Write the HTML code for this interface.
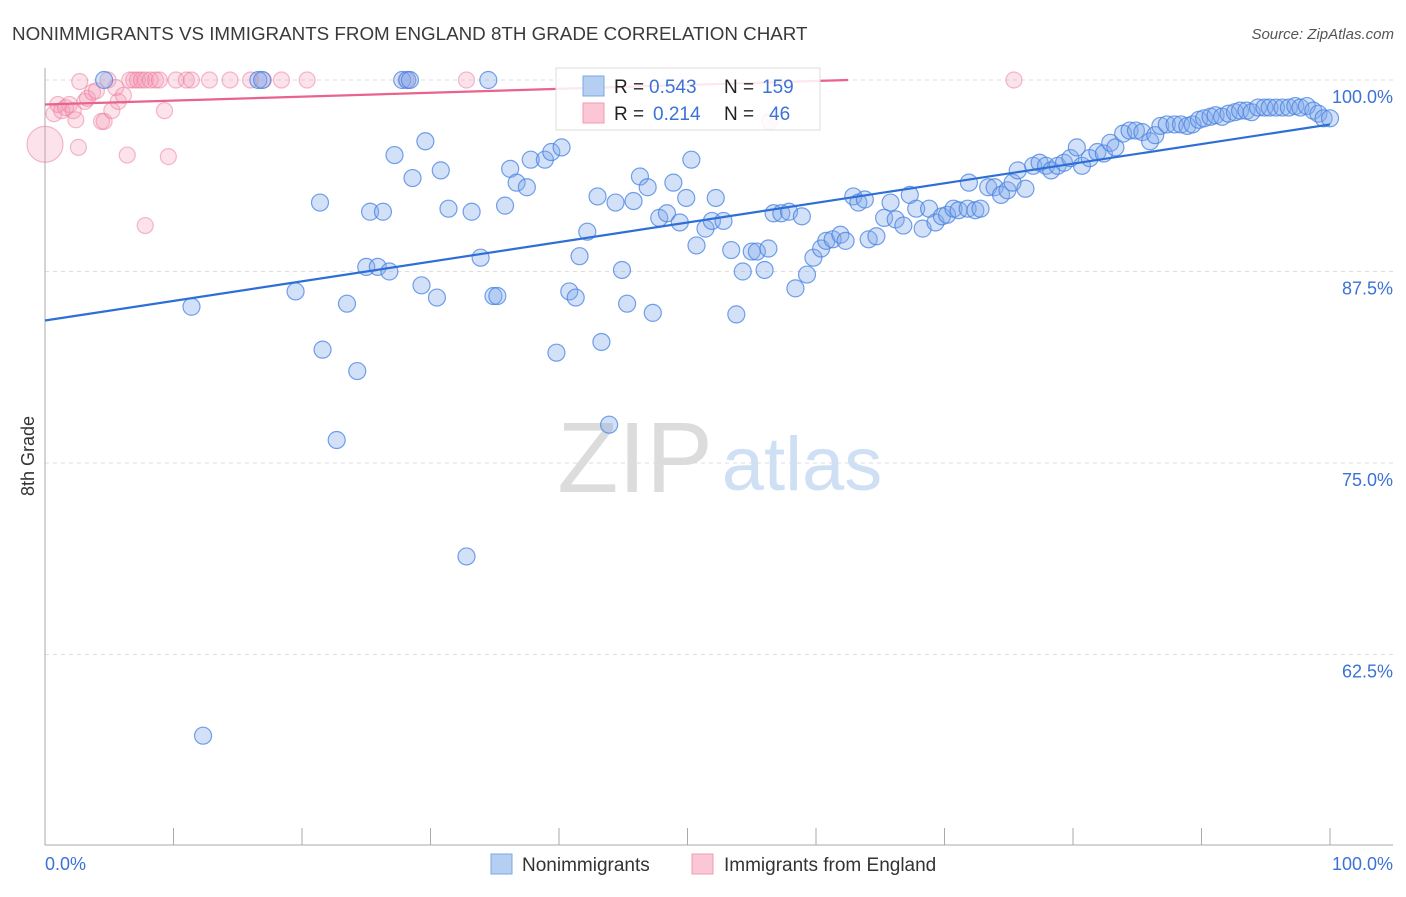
<!DOCTYPE html>
<html><head><meta charset="utf-8"><style>
body{margin:0;background:#fff;font-family:"Liberation Sans",Arial,sans-serif}
svg text{font-family:"Liberation Sans",Arial,sans-serif}
</style></head><body>
<svg id="chart" width="1406" height="892" xmlns="http://www.w3.org/2000/svg">
<text x="12" y="40" font-size="18.8" fill="#3a3a3a">NONIMMIGRANTS VS IMMIGRANTS FROM ENGLAND 8TH GRADE CORRELATION CHART</text>
<text x="1394" y="39" font-size="15" fill="#555" font-style="italic" text-anchor="end">Source: ZipAtlas.com</text>
<g>
<text x="635" y="492" font-size="100" fill="#dcdcdc" font-family="Liberation Serif,serif" text-anchor="middle">ZIP</text>
<text x="802" y="490" font-size="76" fill="#cfe0f5" text-anchor="middle">atlas</text>
</g>
<g id="grid"></g>
<g id="axes"></g>
<g id="marks"></g>
<g>
<rect x="556" y="68" width="264" height="62" fill="#fff" fill-opacity="0.85" stroke="#ddd"/>
<rect x="583" y="76" width="21" height="20" fill="#b5cff3" stroke="#7ea6e6"/>
<text x="614" y="93" font-size="19" fill="#222">R = </text><text x="649" y="93" font-size="19" fill="#3b72d6">0.543</text>
<text x="724" y="93" font-size="19" fill="#222">N = </text><text x="762" y="93" font-size="19" fill="#3b72d6">159</text>
<rect x="583" y="103" width="21" height="20" fill="#fbc7d6" stroke="#f29bb4"/>
<text x="614" y="120" font-size="19" fill="#222">R = </text><text x="653" y="120" font-size="19" fill="#3b72d6">0.214</text>
<text x="724" y="120" font-size="19" fill="#222">N = </text><text x="769" y="120" font-size="19" fill="#3b72d6">46</text>
</g>
<g>
<rect x="491" y="854" width="21" height="20" fill="#b5cff3" stroke="#7ea6e6"/>
<text x="522" y="871" font-size="19" fill="#333">Nonimmigrants</text>
<rect x="692" y="854" width="21" height="20" fill="#fbc7d6" stroke="#f29bb4"/>
<text x="724" y="871" font-size="19" fill="#333">Immigrants from England</text>
</g>
<text transform="translate(34,456) rotate(-90)" font-size="18" fill="#333" text-anchor="middle">8th Grade</text>
</svg>
<script>
const blueX=[4.6,16.6,16.9,27.8,28.2,28.4,34.5,11.4,19.5,21.4,21.6,22.7,23.5,24.3,25.0,25.3,25.9,26.3,26.8,27.2,28.6,29.3,29.6,30.5,30.8,31.4,33.2,33.9,34.9,35.2,35.8,36.2,36.7,37.5,37.8,38.9,39.4,39.8,40.2,40.8,41.3,41.6,42.2,43.0,43.3,43.9,44.4,44.9,45.3,45.8,46.3,46.9,47.3,47.8,48.4,48.9,49.4,49.9,50.3,50.7,51.4,51.9,52.2,52.8,53.4,53.8,54.3,55.0,55.4,56.0,56.3,56.7,57.3,57.9,58.4,58.9,59.3,59.8,60.4,60.8,61.3,61.9,62.3,62.9,63.3,63.8,64.1,64.7,65.3,65.8,66.2,66.8,67.3,67.8,68.3,68.8,69.3,69.8,70.2,70.7,71.1,71.8,72.4,71.9,72.8,73.4,73.9,74.4,74.9,75.3,75.7,76.3,76.9,77.4,77.9,78.3,78.8,79.3,79.8,80.3,80.7,81.3,81.9,82.4,82.9,83.3,83.9,84.4,84.9,85.4,86.0,86.4,86.8,87.3,87.9,88.4,88.9,89.3,89.8,90.2,90.7,91.1,91.6,92.1,92.6,93.0,93.5,93.9,94.4,94.9,95.3,95.8,96.3,96.8,97.3,97.7,98.2,98.7,99.1,99.5,100,12.3,32.8];
const blueY=[100,100,100,100,100,100,100,85.2,86.2,92.0,82.4,76.5,85.4,81.0,87.8,91.4,87.8,91.4,87.5,95.1,93.6,86.6,96.0,85.8,94.1,91.6,91.4,88.4,85.9,85.9,91.8,94.2,93.3,93.0,94.8,94.8,95.3,82.2,95.6,86.2,85.8,88.5,90.1,92.4,82.9,77.5,92.0,87.6,85.4,92.1,93.7,93.0,84.8,91.0,91.3,93.3,90.7,92.3,94.8,89.2,90.3,90.8,92.3,90.8,88.9,84.7,87.5,88.8,88.8,87.6,89.0,91.3,91.3,91.4,86.4,91.1,87.3,88.4,89.0,89.5,89.6,89.9,89.5,92.4,92.0,92.2,89.6,89.8,91.0,92.0,90.9,90.5,92.5,91.6,90.3,91.6,90.7,91.1,91.2,91.6,91.5,91.6,91.5,93.3,91.6,93.0,93.0,92.5,92.8,93.3,94.1,92.9,94.4,94.6,94.4,94.1,94.4,94.6,94.9,95.6,94.4,94.9,95.3,95.2,95.9,95.6,96.5,96.7,96.7,96.6,96.0,96.4,97.0,97.1,97.1,97.1,97.0,97.1,97.4,97.5,97.6,97.7,97.6,97.8,97.9,98.0,98.0,97.9,98.2,98.2,98.2,98.2,98.2,98.2,98.3,98.2,98.3,98.0,97.8,97.5,97.5,57.2,68.9];
const pinkX=[0,0.7,1.0,1.3,1.6,1.9,2.2,2.4,2.7,3.1,3.3,3.7,4.0,4.4,4.6,4.9,5.2,5.5,5.7,6.1,6.4,6.6,6.9,7.2,7.5,7.8,8.2,8.6,8.9,9.3,9.6,7.8,10.2,11.0,11.4,12.8,14.4,16.0,17.0,18.4,20.4,28.1,32.8,56.4,75.4,2.6];
const pinkY=[95.8,97.8,98.4,98.0,98.2,98.4,98.0,97.4,99.9,98.6,98.8,99.2,99.3,97.3,97.3,100,98.0,99.5,98.6,99.0,95.1,100,100,100,100,100,100,100,100,98.0,95.0,90.5,100,100,100,100,100,100,100,100,100,100,100,97.3,100,95.6];
const pinkR=[18,8,8,8,8,8,8,8,8,8,8,8,8,8,8,8,8,8,8,8,8,8,8,8,8,8,8,8,8,8,8,8,8,8,8,8,8,8,8,8,8,8,8,8,8,8];
const blueTrend=[84.3,97.1];   // y at x=0 and x=100
const pinkTrend=[98.4,0.0256]; // intercept, slope
const yTicks=[100,87.5,75,62.5];
const yTickLabels=["100.0%","87.5%","75.0%","62.5%"];
const xTicks=[0,10,20,30,40,50,60,70,80,90,100];

const NS="http://www.w3.org/2000/svg";
const X=v=>45+v*12.85, Y=v=>80+(100-v)*15.32;
function mk(tag,attrs,parent){const e=document.createElementNS(NS,tag);for(const k in attrs)e.setAttribute(k,attrs[k]);parent.appendChild(e);return e;}
const grid=document.getElementById('grid'),axes=document.getElementById('axes'),marks=document.getElementById('marks');
yTicks.forEach((t,i)=>{
  const l=mk('line',{x1:45,x2:1393,y1:Y(t),y2:Y(t),stroke:'#ddd','stroke-dasharray':'4,4'},grid);
  
  
  const tx=mk('text',{x:1393,y:Y(t)+23,'font-size':18,fill:'#3b72d6','text-anchor':'end'},axes);
  tx.textContent=yTickLabels[i];
  
  
});
const la=mk('line',{x1:45,x2:45,y1:68,y2:845,stroke:'#aaa'},axes);


const ba=mk('line',{x1:45,x2:1393,y1:845,y2:845,stroke:'#aaa'},axes);


xTicks.forEach(t=>{
  const tk=mk('line',{x1:X(t),x2:X(t),y1:828,y2:845,stroke:'#aaa'},axes);
  
  
});
[[0,"0.0%",'start',45],[100,"100.0%",'end',1393]].forEach(a=>{
  const tx=mk('text',{x:a[3],y:870,'font-size':18,fill:'#3b72d6','text-anchor':a[2]},axes);
  tx.textContent=a[1];
  
  
});
pinkX.forEach((v,i)=>{
  const c=mk('circle',{cx:X(v),cy:Y(pinkY[i]),r:pinkR[i],fill:'rgba(244,150,180,0.28)',stroke:'rgba(236,120,155,0.5)','stroke-width':1.2},marks);
  
  
});
blueX.forEach((v,i)=>{
  const c=mk('circle',{cx:X(v),cy:Y(blueY[i]),r:8.5,fill:'rgba(130,170,235,0.35)',stroke:'rgba(70,130,225,0.75)','stroke-width':1.2},marks);
  
  
});
const bl=mk('line',{x1:X(0),y1:Y(blueTrend[0]),x2:X(100),y2:Y(blueTrend[1]),stroke:'#2e6fd6','stroke-width':2.2},marks);


const pEnd=Math.min(100,(100-pinkTrend[0])/pinkTrend[1]);
const pl=mk('line',{x1:X(0),y1:Y(pinkTrend[0]),x2:X(pEnd),y2:Y(pinkTrend[0]+pinkTrend[1]*pEnd),stroke:'#e8648c','stroke-width':2.2},marks);


</script>
</body></html>
